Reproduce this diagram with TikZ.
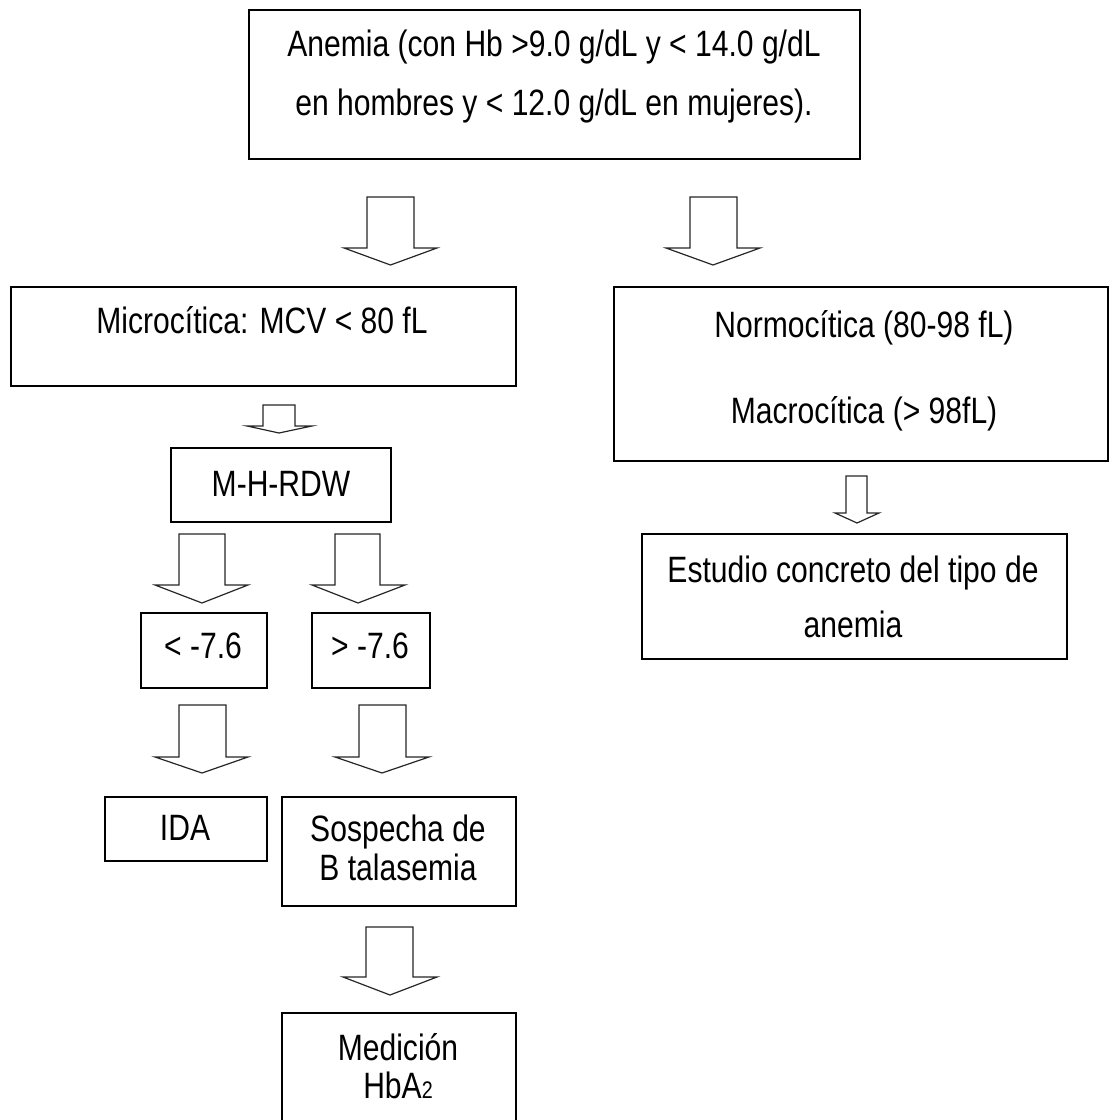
\documentclass[tikz,border=0pt]{standalone}
\usepackage{fontspec}
\setmainfont{Liberation Sans}[FakeStretch=0.82]
\usepackage{tikz}

\begin{document}
\begin{tikzpicture}[x=0.75pt,y=0.75pt,yscale=-1,xscale=1,
    box/.style={draw, line width=1.1pt, inner sep=0pt, outer sep=0pt},
    txt/.style={anchor=base, inner sep=0.75pt, font=\fontsize{27.5}{33}\selectfont},
    blockarrow/.style={draw=black!85, line width=0.9pt, line join=miter, fill=white}]
        \useasboundingbox (0,0) rectangle (1112,1120);

        %Shape: Rectangle [id:anemia]
        \node [box, minimum width=458.25pt, minimum height=111.75pt] (anemia) at (554.5,84.5) {};
        %Shape: Rectangle [id:micro]
        \node [box, minimum width=378.75pt, minimum height=74.25pt] (micro) at (263.5,336.5) {};
        %Shape: Rectangle [id:normo]
        \node [box, minimum width=370.5pt, minimum height=130.5pt] (normo) at (861,374) {};
        %Shape: Rectangle [id:mhrdw]
        \node [box, minimum width=165pt, minimum height=55.5pt] (mhrdw) at (281,485) {};
        %Shape: Rectangle [id:estudio]
        \node [box, minimum width=318.75pt, minimum height=93.75pt] (estudio) at (854.5,596.5) {};
        %Shape: Rectangle [id:menor]
        \node [box, minimum width=94.5pt, minimum height=56.25pt] (menor) at (204,650.5) {};
        %Shape: Rectangle [id:mayor]
        \node [box, minimum width=88.5pt, minimum height=56.25pt] (mayor) at (371,650.5) {};
        %Shape: Rectangle [id:ida]
        \node [box, minimum width=121.5pt, minimum height=48pt] (ida) at (186,829) {};
        %Shape: Rectangle [id:sospecha]
        \node [box, minimum width=175.5pt, minimum height=81.75pt] (sospecha) at (399,851.5) {};
        %Shape: Rectangle [id:medicion]
        \node [box, minimum width=175.5pt, minimum height=91.5pt] (medicion) at (399,1074) {};

        %Shape: Down Arrow [id:arrA]
        \draw [blockarrow] (367,197) -- (414,197) -- (414,248) -- (437,248) -- (390.5,265) -- (344,248) -- (367,248) -- cycle ;
        %Shape: Down Arrow [id:arrB]
        \draw [blockarrow] (690,197) -- (737,197) -- (737,248) -- (760,248) -- (713,265) -- (666,248) -- (690,248) -- cycle ;
        %Shape: Down Arrow [id:arrC]
        \draw [blockarrow] (263,405) -- (295,405) -- (295,426) -- (312,426) -- (279,433) -- (247,426) -- (263,426) -- cycle ;
        %Shape: Down Arrow [id:arrD]
        \draw [blockarrow] (846,476) -- (867,476) -- (867,513) -- (879,513) -- (857,523) -- (835,513) -- (846,513) -- cycle ;
        %Shape: Down Arrow [id:arrE]
        \draw [blockarrow] (179,534) -- (225,534) -- (225,585) -- (248,585) -- (202,603) -- (155,585) -- (179,585) -- cycle ;
        %Shape: Down Arrow [id:arrF]
        \draw [blockarrow] (335,534) -- (380,534) -- (380,585) -- (405,585) -- (358,603) -- (312,585) -- (335,585) -- cycle ;
        %Shape: Down Arrow [id:arrG]
        \draw [blockarrow] (179,705) -- (226,705) -- (226,757) -- (248,757) -- (202,773) -- (155,757) -- (179,757) -- cycle ;
        %Shape: Down Arrow [id:arrH]
        \draw [blockarrow] (359,705) -- (406,705) -- (406,757) -- (429,757) -- (382,773) -- (335,757) -- (359,757) -- cycle ;
        %Shape: Down Arrow [id:arrI]
        \draw [blockarrow] (366,927) -- (413,927) -- (413,977) -- (437,977) -- (390,995) -- (343,977) -- (366,977) -- cycle ;

        % Text Node
        \node [txt] (anemiaA) at (554,57) {Anemia (con Hb >9.0 g/dL y < 14.0 g/dL};
        % Text Node
        \node [txt] (anemiaB) at (554,116) {en hombres y < 12.0 g/dL en mujeres).};
        % Text Node
        \node [txt] (microT) at (262,333) {Microcítica: MCV < 80 fL};
        % Text Node
        \node [txt] (normoA) at (864,337) {Normocítica (80-98 fL)};
        % Text Node
        \node [txt] (normoB) at (864,423) {Macrocítica (> 98fL)};
        % Text Node
        \node [txt] (mhrdwT) at (281,496) {M-H-RDW};
        % Text Node
        \node [txt] (estudioA) at (853,582) {Estudio concreto del tipo de};
        % Text Node
        \node [txt] (estudioB) at (853,637) {anemia};
        % Text Node
        \node [txt] (menorT) at (203,658) {< -7.6};
        % Text Node
        \node [txt] (mayorT) at (370,658) {> -7.6};
        % Text Node
        \node [txt] (idaT) at (185,840) {IDA};
        % Text Node
        \node [txt] (sospechaA) at (398,841) {Sospecha de};
        % Text Node
        \node [txt] (sospechaB) at (398,880) {B talasemia};
        % Text Node
        \node [txt] (medicionA) at (398,1060) {Medición};
        % Text Node
        \node [txt] (medicionB) at (398,1098) {HbA{\fontsize{18}{20}\selectfont 2}};

\end{tikzpicture}
\end{document}
